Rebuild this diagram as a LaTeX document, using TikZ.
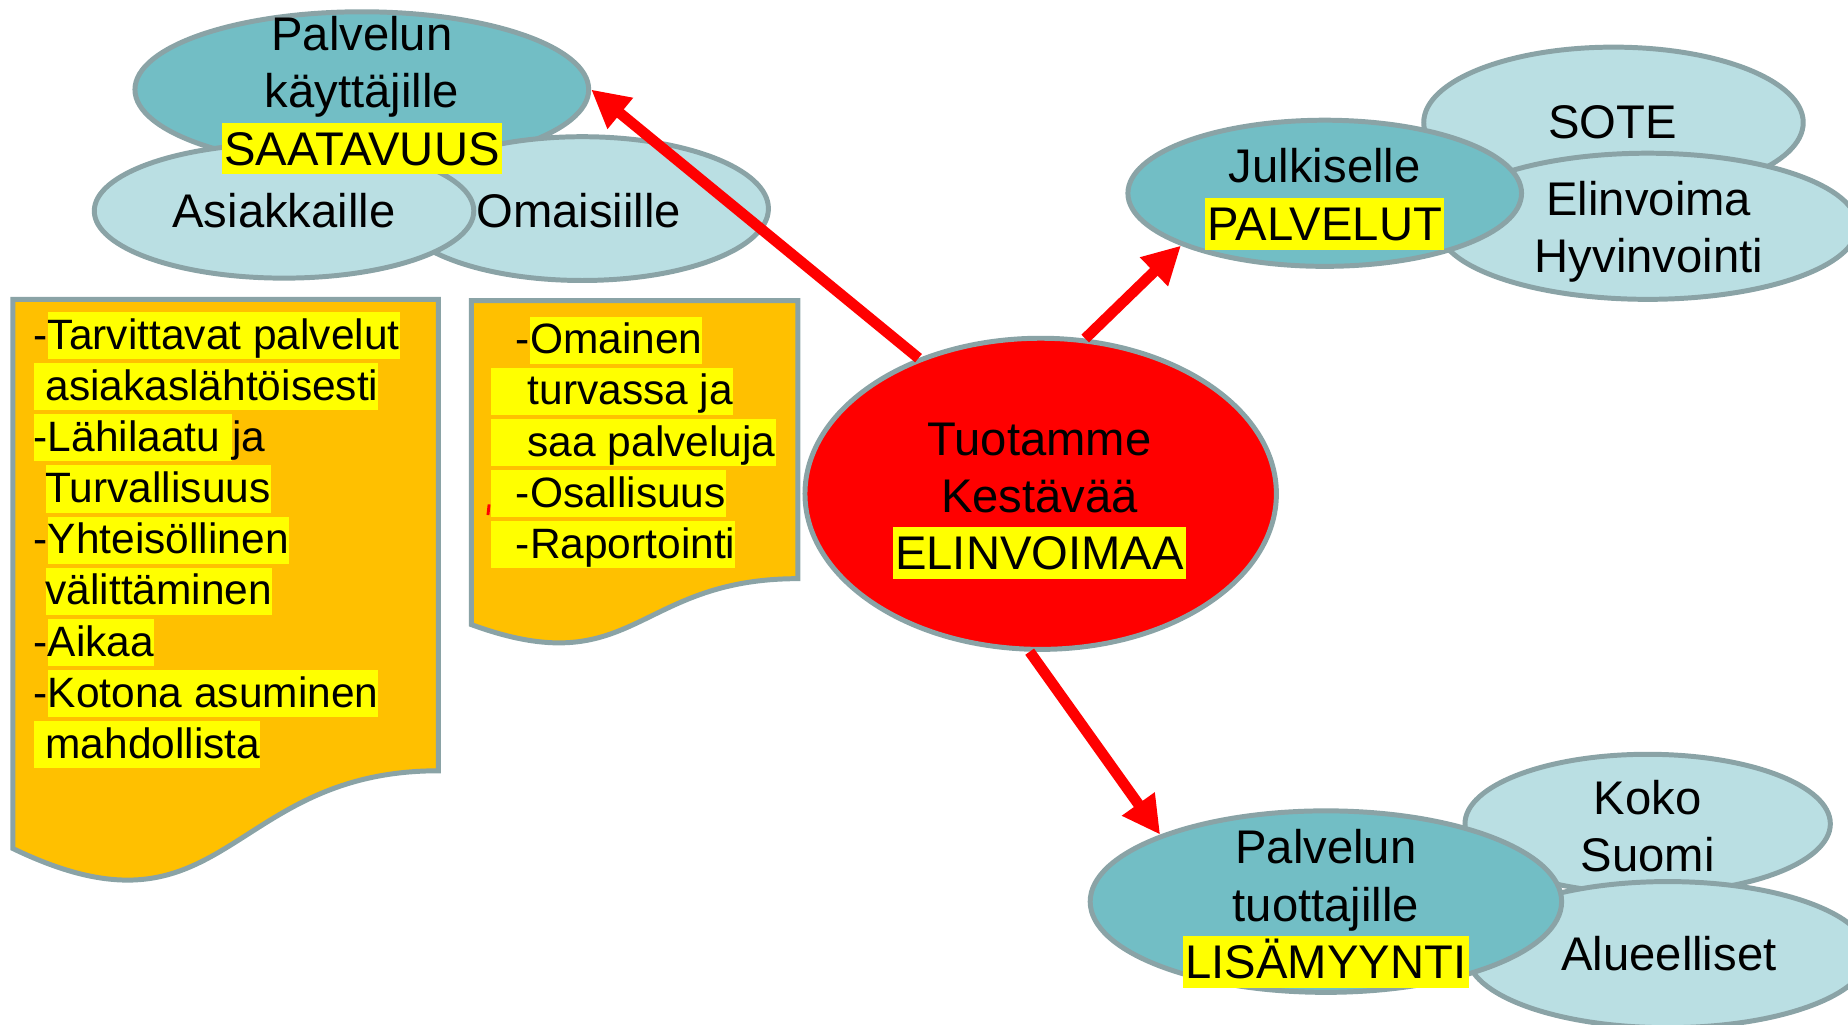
\documentclass[tikz,border=0pt]{standalone}
\usepackage{fontspec}
\setmainfont{Liberation Sans}
\usepackage{tikz}
\usetikzlibrary{shapes.geometric,arrows.meta}
\definecolor{bubbledark}{RGB}{114,190,197}
\definecolor{bubblelight}{RGB}{186,223,227}
\definecolor{rimgray}{RGB}{138,163,166}
\definecolor{paperorange}{RGB}{255,192,0}
\definecolor{markyellow}{RGB}{255,255,0}
\newcommand{\markline}[1]{{\setlength{\fboxsep}{0pt}\colorbox{markyellow}{\rule[-0.085cm]{0pt}{0.40cm}#1}}}
\newcommand{\markword}[1]{{\setlength{\fboxsep}{0pt}\colorbox{markyellow}{\rule[-0.08cm]{0pt}{0.44cm}\hspace{0.02cm}#1\hspace{0.02cm}}}}

\begin{document}
\begin{tikzpicture}[
    bubble/.style={ellipse, draw=rimgray, line width=1.2pt, inner sep=0pt},
    dark/.style={bubble, fill=bubbledark},
    light/.style={bubble, fill=bubblelight},
    hub/.style={bubble, fill=red},
    say/.style={align=center, inner sep=0pt, font=\fontsize{11.4pt}{13.8pt}\selectfont},
    paper/.style={draw=rimgray, line width=1.2pt, fill=paperorange},
    list/.style={align=left, inner sep=0pt, anchor=north west, font=\fontsize{10.25pt}{12.35pt}\selectfont},
    push/.style={draw=red, line width=2.6pt, -{Triangle[length=0.32cm, width=0.32cm]}}
  ]
  \useasboundingbox (0,0) rectangle (15.68,8.69);

  \node[dark, minimum width=3.85cm, minimum height=1.32cm] (users) at (3.07,7.93) {};
  \node[light, minimum width=3.16cm, minimum height=1.22cm] (relatives) at (4.94,6.92) {};
  \node[light, minimum width=3.22cm, minimum height=1.14cm] (clients) at (2.41,6.90) {};
  \node[say] (usersTxt) at (3.07,7.88) {Palvelun\\käyttäjille\\ \markword{SAATAVUUS}};
  \node[say] (clientsTxt) at (2.41,6.905) {Asiakkaille};
  \node[say] (relativesTxt) at (4.91,6.905) {Omaisiille};

  \draw[paper] (0.11,6.15) -- (3.72,6.15) -- (3.72,2.15) .. controls (1.915,2.15) and (1.915,0.62) .. (0.11,1.49) -- cycle;
  \node[list] (needs) at (0.28,6.05) {-\markline{Tarvittavat palvelut}\\
    \markline{\ asiakaslähtöisesti}\\
    \markline{-Lähilaatu\ }ja\\
    \hspace*{0.1cm}\markline{Turvallisuus}\\
    -\markline{Yhteisöllinen}\\
    \hspace*{0.1cm}\markline{välittäminen}\\
    -\markline{Aikaa}\\
    -\markline{Kotona asuminen}\\
    \markline{\ mahdollista}};
  \draw[paper] (4.00,6.14) -- (6.77,6.14) -- (6.77,3.78) .. controls (5.385,3.78) and (5.385,2.884) .. (4.00,3.39) -- cycle;
  \node[list] (carers) at (4.16,6.01) {\hspace*{0.21cm}-\markline{Omainen}\\
    \markline{\hspace{0.31cm}turvassa ja}\\
    \markline{\hspace{0.31cm}saa palveluja}\\
    \markline{\hspace{0.21cm}-Osallisuus}\\
    \markline{\hspace{0.21cm}-Raportointi}};
  \draw[red, line width=0.7pt] (4.15,4.41) -- (4.14,4.32);

  \node[hub, minimum width=4.00cm, minimum height=2.64cm] (core) at (8.83,4.50) {};
  \node[say] (coreTxt) at (8.82,4.44) {Tuotamme\\Kestävää\\ \markword{ELINVOIMAA}};

  \node[light, minimum width=3.22cm, minimum height=1.28cm] (sote) at (13.69,7.65) {};
  \node[light, minimum width=3.56cm, minimum height=1.24cm] (vitality) at (13.98,6.77) {};
  \node[dark, minimum width=3.34cm, minimum height=1.24cm] (public) at (11.24,7.05) {};
  \node[say] (soteTxt) at (13.68,7.655) {SOTE};
  \node[say] (vitalityTxt) at (13.99,6.72) {Elinvoima\\Hyvinvointi};
  \node[say] (publicTxt) at (11.24,7.00) {Julkiselle\\ \markword{PALVELUT}};

  \node[light, minimum width=3.10cm, minimum height=1.18cm] (nation) at (13.98,1.70) {};
  \node[light, minimum width=3.40cm, minimum height=1.24cm] (regional) at (14.15,0.59) {};
  \node[dark, minimum width=4.00cm, minimum height=1.54cm] (producers) at (11.25,1.04) {};
  \node[say] (nationTxt) at (13.98,1.68) {Koko\\Suomi};
  \node[say] (regionalTxt) at (14.16,0.595) {Alueelliset};
  \node[say] (producersTxt) at (11.25,0.98) {Palvelun\\tuottajille\\ \markword{LISÄMYYNTI}};

  \draw[push] (core.132) -- (users.east);
  \draw[push] (core.74) -- (public.200);
  \draw[push] (core.266) -- (producers.158);
\end{tikzpicture}
\end{document}
